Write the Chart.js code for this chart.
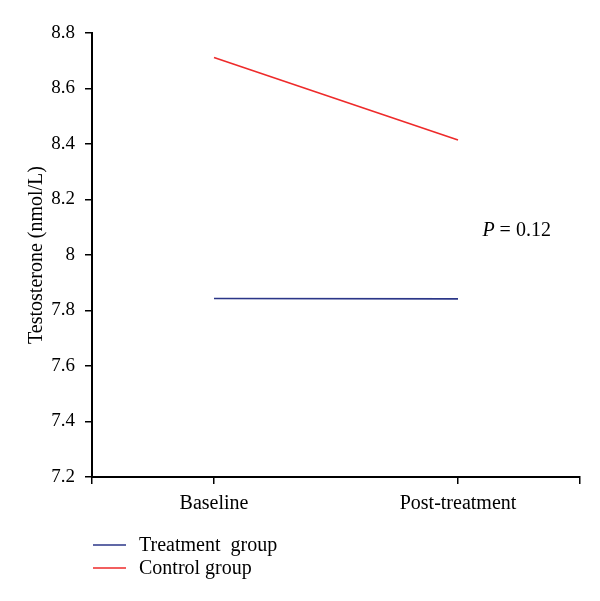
<!DOCTYPE html>
<html>
<head>
<meta charset="utf-8">
<script src="https://cdn.jsdelivr.net/npm/chart.js@4.4.0/dist/chart.umd.min.js"></script>
<style>
    html, body { margin: 0; padding: 0; background: #fff; }
    #wrap { width: 600px; height: 601px; position: relative; }
</style>
</head>
<body>
<div id="wrap"><canvas id="chart" width="600" height="601"></canvas></div>
<script>
    'use strict';

    var categories = ['Baseline', 'Post-treatment'];
    var treatmentValues = [7.843, 7.842];
    var controlValues = [8.712, 8.414];
    var yTicks = [7.2, 7.4, 7.6, 7.8, 8, 8.2, 8.4, 8.6, 8.8];
    var pLabel = '0.12';

    var serif = '"Liberation Serif", "DejaVu Serif", serif';

    function toPoints(values) {
        return values.map(function (v, i) { return { x: i, y: v }; });
    }

    // draws the P value note and the legend under the axis
    var notes = {
        id: 'notes',
        afterDraw: function (chart) {
            var ctx = chart.ctx;
            var x = chart.scales.x, y = chart.scales.y;
            ctx.save();
            ctx.fillStyle = '#000';
            ctx.textBaseline = 'middle';
            var px = x.getPixelForValue(1.10), py = y.getPixelForValue(8.086);
            ctx.font = 'italic 20px ' + serif;
            ctx.fillText('P', px, py);
            var w = ctx.measureText('P ').width;
            ctx.font = '20px ' + serif;
            ctx.fillText('= ' + pLabel, px + w, py);

            var lx = chart.chartArea.left + 1, ly = 545;
            chart.data.datasets.forEach(function (ds, i) {
                var yy = ly + i * 23;
                ctx.strokeStyle = ds.borderColor;
                ctx.lineWidth = 1.3;
                ctx.beginPath();
                ctx.moveTo(lx, yy);
                ctx.lineTo(lx + 33, yy);
                ctx.stroke();
                ctx.font = '20px ' + serif;
                ctx.fillText(ds.label, lx + 46, yy + 1);
            });
            ctx.restore();
        }
    };

    new Chart(document.getElementById('chart'), {
        type: 'line',
        data: {
            datasets: [
                { label: 'Treatment  group', data: toPoints(treatmentValues), borderColor: '#2b3688', borderWidth: 1.6, pointRadius: 0 },
                { label: 'Control group', data: toPoints(controlValues), borderColor: '#ee2a2a', borderWidth: 1.6, pointRadius: 0 }
            ]
        },
        options: {
            responsive: false,
            animation: false,
            layout: { padding: { left: 25, right: 20, top: 33, bottom: 0 } },
            plugins: { legend: { display: false }, tooltip: { enabled: false } },
            scales: {
                x: {
                    type: 'linear',
                    min: -0.5,
                    max: 1.5,
                    afterBuildTicks: function (axis) {
                        axis.ticks = [-0.5, 0, 1, 1.5].map(function (v) { return { value: v }; });
                    },
                    afterFit: function (axis) { axis.height = 124; },
                    ticks: {
                        color: '#000',
                        font: { family: serif, size: 20 },
                        padding: 8,
                        autoSkip: false,
                        maxRotation: 0,
                        callback: function (v) { return categories[v] || ''; }
                    },
                    grid: { drawOnChartArea: false, color: '#000', tickLength: 7, lineWidth: 1.5 },
                    border: { color: '#000', width: 2 }
                },
                y: {
                    min: 7.2,
                    max: 8.8,
                    afterBuildTicks: function (axis) {
                        axis.ticks = yTicks.map(function (v) { return { value: v }; });
                    },
                    afterFit: function (axis) { axis.width = 67; },
                    ticks: {
                        color: '#000',
                        font: { family: serif, size: 19 },
                        padding: 10,
                        callback: function (v) { return String(Number(v.toFixed(1))); }
                    },
                    grid: { drawOnChartArea: false, color: '#000', tickLength: 7, lineWidth: 1.5 },
                    border: { color: '#000', width: 2 },
                    title: {
                        display: true,
                        text: 'Testosterone (nmol/L)',
                        color: '#000',
                        font: { family: serif, size: 20 },
                        padding: 0
                    }
                }
            }
        },
        plugins: [notes]
    });
</script>
</body>
</html>
